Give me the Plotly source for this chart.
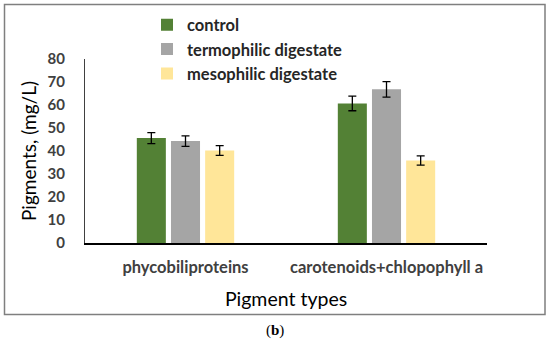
import plotly.graph_objects as go

categories = ["phycobiliproteins", "carotenoids+chlopophyll a"]
series_names = ["control", "termophilic digestate", "mesophilic digestate"]
control = [45.6, 60.7]
termophilic = [44.3, 66.8]
mesophilic = [40.2, 35.9]
control_err = [2.4, 3.2]
termophilic_err = [2.3, 3.4]
mesophilic_err = [2.1, 2.0]
y_ticks = [0, 10, 20, 30, 40, 50, 60, 70, 80]
colors = ["#538135", "#A5A5A5", "#FFE699"]

values = [control, termophilic, mesophilic]
errors = [control_err, termophilic_err, mesophilic_err]

fig = go.Figure()
for i, name in enumerate(series_names):
    fig.add_trace(go.Bar(
        x=categories, y=values[i], name=name,
        marker=dict(color=colors[i], line=dict(width=0)),
        legendgroup=name,
        error_y=dict(type="data", array=errors[i], visible=True,
                     color="black", thickness=1.3, width=4),
    ))

PL, PR = 85, 487
PT, PB = 59, 242.7
W, H = 550, 342

def px2paper_x(px):
    return (px - PL) / (PR - PL)

def px2paper_y(py):
    return (PB - py) / (PB - PT)

fig.update_layout(
    width=W, height=H,
    margin=dict(l=PL, r=W - PR, t=PT, b=H - PB, autoexpand=False),
    paper_bgcolor="white", plot_bgcolor="white",
    barmode="group", bargap=0.49, bargroupgap=0.15,
    font=dict(family="Lato", color="#404040"),
    showlegend=True,
    legend=dict(
        x=px2paper_x(147), y=px2paper_y(7.5), xanchor="left", yanchor="top",
        traceorder="grouped", tracegroupgap=0,
        font=dict(family="Lato", size=16.5, color="#262626", weight="bold"),
        bgcolor="rgba(0,0,0,0)", itemwidth=30,
    ),
    xaxis=dict(
        showline=True, linecolor="black", linewidth=1.5,
        ticks="", showgrid=False, zeroline=False,
        tickfont=dict(family="Lato", size=16.5, color="#404040", weight="bold"),
        ticklabelstandoff=8,
        title=dict(text="Pigment types", font=dict(family="Lato", size=19.5, color="#000000"),
                   standoff=17),
    ),
    yaxis=dict(
        range=[0, 80], tickvals=y_ticks, showline=True, linecolor="#404040",
        linewidth=1, ticks="", showgrid=False, zeroline=False,
        tickfont=dict(family="Lato", size=15, color="#404040", weight="bold"),
        ticklabelstandoff=16,
        title=dict(text="Pigments, (mg/L)", font=dict(family="Lato", size=19, color="#000000"),
                   standoff=5),
    ),
    shapes=[dict(
        type="rect", xref="paper", yref="paper",
        x0=px2paper_x(4.5), x1=px2paper_x(545), y0=px2paper_y(314), y1=px2paper_y(4.5),
        line=dict(color="#7f7f7f", width=1.5), fillcolor="rgba(0,0,0,0)", layer="below",
    )],
    annotations=[dict(
        text="(<b>b</b>)", xref="paper", yref="paper",
        x=px2paper_x(275), y=px2paper_y(330), xanchor="center", yanchor="middle",
        showarrow=False, font=dict(family="Liberation Serif", size=15, color="#000000"),
    )],
)

fig.write_html("out.html", config={"displayModeBar": False},
               post_script="document.body.style.margin='0px';")
